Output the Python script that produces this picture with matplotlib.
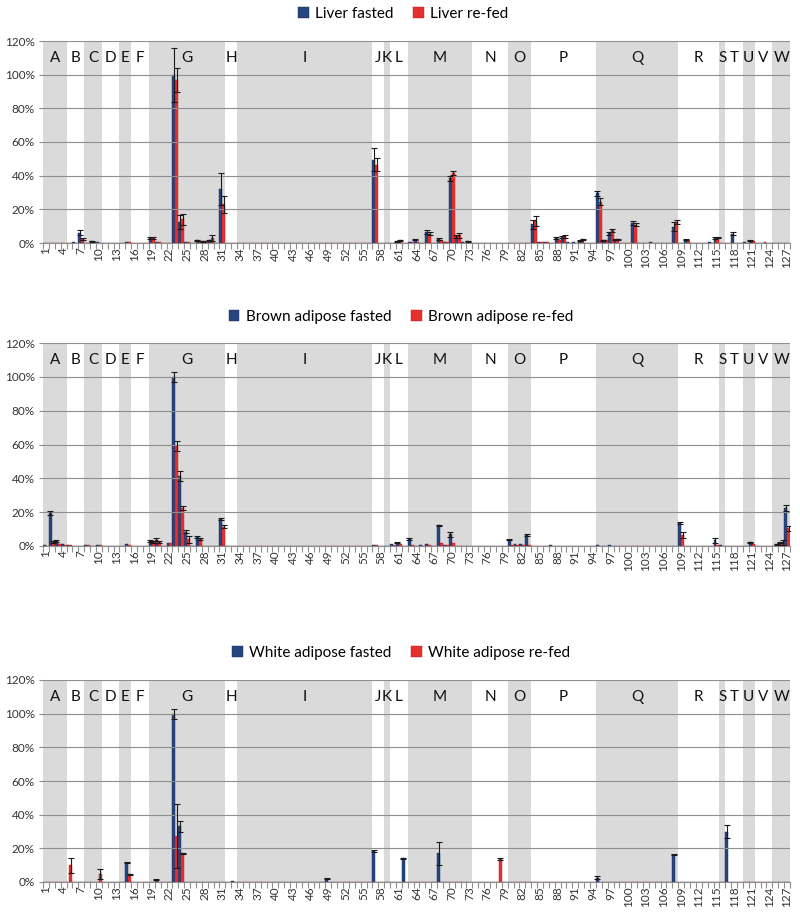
import numpy as np
import matplotlib
matplotlib.use('Agg')
import matplotlib.pyplot as plt
from matplotlib.ticker import FuncFormatter

plt.rcParams['font.family'] = ['Lato', 'DejaVu Sans']

# number of categories on the x axis
n_cat = 127

# band letters and the first category of each band
band_letters = list('ABCDEFGHIJKLMNOPQRSTUVW')
band_start = [1, 5, 8, 11, 14, 16, 19, 32, 34, 57, 59, 60, 63, 74, 80, 84, 95, 109, 116, 117, 120, 122, 125]

# liver
liver_f_cat = [6, 7, 9, 10, 15, 19, 20, 23, 24, 25, 27, 28, 29, 31, 57, 61, 63, 64, 66, 68, 69, 70, 71, 72, 73,
               84, 85, 86, 88, 89, 90, 91, 92, 95, 96, 97, 98, 101, 104, 108, 110, 114, 115, 118, 120, 121]
liver_f_val = [0.5, 6.0, 1.0, 0.5, 0.4, 3.0, 0.8, 100, 12.5, 0.5, 1.5, 1.0, 1.5, 32, 49.5, 1.0, 0.8, 2.0, 6.5, 2.5, 0.8, 38.5, 4.0, 0.5, 1.0,
               11.0, 0.6, 0.6, 2.8, 3.5, 0.3, 0.3, 1.3, 29.5, 1.5, 5.8, 2.0, 11.8, 0.3, 9.8, 1.8, 0.8, 3.0, 5.5, 0.8, 1.3]
liver_f_err = [0, 1.5, 0.2, 0, 0, 0.5, 0, 16, 4, 0, 0.3, 0.2, 0.3, 9.5, 7, 0.2, 0, 0.4, 1.2, 0.5, 0, 1.5, 1.0, 0, 0.3,
               2.5, 0, 0, 0.5, 0.5, 0, 0, 0.3, 1.5, 0.2, 1.0, 0.3, 1.0, 0, 2.5, 0.3, 0, 0.5, 0.8, 0, 0.2]
liver_r_cat = [7, 9, 15, 19, 20, 23, 24, 25, 27, 28, 29, 31, 57, 61, 63, 64, 66, 68, 69, 70, 71,
               84, 85, 86, 88, 89, 92, 95, 96, 97, 98, 101, 108, 110, 115, 121, 123]
liver_r_val = [2.5, 0.8, 0.3, 3.0, 0.5, 97, 14, 0.3, 1.0, 0.8, 2.8, 23, 46.5, 1.5, 0.8, 0.5, 5.5, 1.8, 0.5, 41.5, 4.5,
               13, 0.5, 0.5, 1.5, 4.0, 2.2, 24.5, 1.5, 7.5, 2.2, 10.8, 12.5, 1.0, 3.2, 1.3, 0.8]
liver_r_err = [0.7, 0, 0, 0.8, 0, 7, 3.5, 0, 0, 0, 1.8, 5, 4, 0.3, 0, 0, 0.8, 0, 0, 1.2, 1.5,
               3, 0, 0, 0, 0.8, 0.3, 2, 0, 1.0, 0.3, 0.8, 1.0, 0, 0.5, 0, 0]

# brown adipose
brown_f_cat = [1, 2, 3, 4, 5, 8, 10, 15, 19, 20, 22, 23, 24, 25, 27, 31, 57, 60, 61, 63, 65, 66, 68, 69, 70,
               80, 81, 82, 83, 87, 95, 97, 109, 115, 116, 121, 126, 127]
brown_f_val = [0.8, 19.5, 3.0, 1.2, 0.8, 0.3, 0.3, 1.3, 3.0, 3.8, 1.8, 100, 41.5, 8.5, 5.3, 16, 0.3, 1.2, 2.0, 4.2, 0.5, 1.2, 12.2, 0.8, 7.0,
               3.8, 1.0, 1.3, 6.5, 0.3, 0.5, 0.3, 13.5, 3.3, 0.5, 2.3, 2.0, 22.5]
brown_f_err = [0, 1, 0.5, 0, 0, 0, 0, 0, 0.5, 1.0, 0, 3, 3, 1, 0.7, 0.5, 0, 0, 0.5, 0.7, 0, 0, 0.3, 0, 1.5,
               0.5, 0, 0, 0.7, 0, 0, 0, 0.5, 1.5, 0, 0.3, 0.5, 2]
brown_r_cat = [2, 3, 4, 5, 8, 10, 15, 19, 20, 22, 23, 24, 25, 27, 31, 57, 60, 61, 63, 66, 68, 69, 70,
               80, 81, 82, 83, 109, 115, 121, 125, 126, 127]
brown_r_val = [2.5, 1.0, 0.5, 0.6, 0.3, 0.3, 0.5, 2.5, 2.5, 1.8, 59, 22.5, 4.0, 4.2, 11.5, 0.3, 0.5, 1.2, 0.3, 0.5, 1.5, 0.5, 1.5,
               0.3, 0.8, 0.5, 0.5, 6.5, 0.5, 1.0, 1.0, 2.0, 10.5]
brown_r_err = [0.5, 0, 0, 0, 0, 0, 0, 0.5, 0.5, 0, 3, 1, 2, 0.7, 1, 0, 0, 0, 0, 0, 0, 0, 0,
               0, 0, 0, 0, 2, 0, 0, 0.3, 1.5, 1.5]

# white adipose
white_f_cat = [15, 20, 23, 24, 33, 49, 57, 62, 68, 95, 108, 117]
white_f_val = [11.5, 1.2, 100, 33, 0.5, 2.0, 18.5, 14, 17, 2.5, 16.3, 30]
white_f_err = [0.3, 0.3, 3, 3, 0, 0.5, 0.5, 0.3, 7, 0.8, 0.3, 4]
white_r_cat = [5, 10, 15, 23, 24, 78]
white_r_val = [10, 5, 4.5, 27.5, 17, 13.5]
white_r_err = [4.5, 3, 0.3, 19, 0.3, 0.5]

panels = [
    ('Liver', liver_f_cat, liver_f_val, liver_f_err, liver_r_cat, liver_r_val, liver_r_err),
    ('Brown adipose', brown_f_cat, brown_f_val, brown_f_err, brown_r_cat, brown_r_val, brown_r_err),
    ('White adipose', white_f_cat, white_f_val, white_f_err, white_r_cat, white_r_val, white_r_err),
]

fasted_color = '#27457f'
refed_color = '#e5302f'
band_color = '#dadada'
grid_color = '#8f8f8f'

W, H = 800, 919
fig = plt.figure(figsize=(W / 100, H / 100), dpi=100)

# axes top / bottom in pixels, and legend centre in pixels
axes_px = [(41, 243), (343, 546), (680, 882)]
legend_px = [(403, 14), (401, 317), (401, 653)]

band_end = band_start[1:] + [n_cat + 1]
cats = np.arange(1, n_cat + 1)

for (name, fc, fv, fe, rc, rv, re_), (top, bot), (lx, ly) in zip(panels, axes_px, legend_px):
    ax = fig.add_axes([43 / W, 1 - bot / H, (790 - 43) / W, (bot - top) / H])

    # shaded bands with letters
    for i, (letter, s, e) in enumerate(zip(band_letters, band_start, band_end)):
        if i % 2 == 0:
            ax.axvspan(s - 0.5, e - 0.5, color=band_color, lw=0, zorder=0)
        ax.text((s + e - 1) / 2, 110, letter, ha='center', va='center', fontsize=11, color='#111111', zorder=3)

    # full arrays
    f_val = np.zeros(n_cat)
    f_err = np.zeros(n_cat)
    r_val = np.zeros(n_cat)
    r_err = np.zeros(n_cat)
    f_val[np.array(fc) - 1] = fv
    f_err[np.array(fc) - 1] = fe
    r_val[np.array(rc) - 1] = rv
    r_err[np.array(rc) - 1] = re_

    ax.bar(cats - 0.25, f_val, width=0.5, color=fasted_color, edgecolor='#10295e', lw=0.3,
           zorder=2, label=name + ' fasted')
    ax.bar(cats + 0.25, r_val, width=0.5, color=refed_color, edgecolor='#c41a1a', lw=0.3,
           zorder=2, label=name + ' re-fed')

    m = f_err > 0
    ax.errorbar(cats[m] - 0.25, f_val[m], yerr=f_err[m], fmt='none', ecolor='#1a1a1a',
                elinewidth=0.8, capsize=2, capthick=0.8, zorder=3)
    m = r_err > 0
    ax.errorbar(cats[m] + 0.25, r_val[m], yerr=r_err[m], fmt='none', ecolor='#1a1a1a',
                elinewidth=0.8, capsize=2, capthick=0.8, zorder=3)

    ax.set_xlim(0.5, n_cat + 0.5)
    ax.set_ylim(0, 120)
    ax.set_yticks(np.arange(0, 121, 20))
    ax.yaxis.set_major_formatter(FuncFormatter(lambda v, p: '%d%%' % v))
    ax.grid(axis='y', color=grid_color, lw=0.8, zorder=1)
    ax.set_axisbelow(False)
    for g in ax.get_ygridlines():
        g.set_zorder(1)

    ax.set_xticks(np.arange(1, n_cat + 1, 3))
    ax.set_xticklabels([str(v) for v in range(1, n_cat + 1, 3)], rotation=90)
    ax.set_xticks(np.arange(0.5, n_cat + 1, 1), minor=True)
    ax.tick_params(axis='x', which='major', length=0, labelsize=8.5, pad=3, labelcolor='#333333')
    ax.tick_params(axis='x', which='minor', length=4, color=grid_color, width=0.8)
    ax.tick_params(axis='y', length=3, color=grid_color, labelsize=8.5, labelcolor='#333333', pad=3)

    for s in ['top', 'right', 'left']:
        ax.spines[s].set_visible(False)
    ax.spines['bottom'].set_color(grid_color)
    ax.spines['bottom'].set_linewidth(0.8)

    fig.legend(handles=ax.get_legend_handles_labels()[0], labels=ax.get_legend_handles_labels()[1],
               loc='center', bbox_to_anchor=(lx / W, 1 - ly / H), ncol=2, frameon=False,
               fontsize=11, handlelength=0.7, handleheight=0.7, handletextpad=0.4,
               columnspacing=1.3, borderpad=0)

fig.savefig('out.png', dpi=100)
